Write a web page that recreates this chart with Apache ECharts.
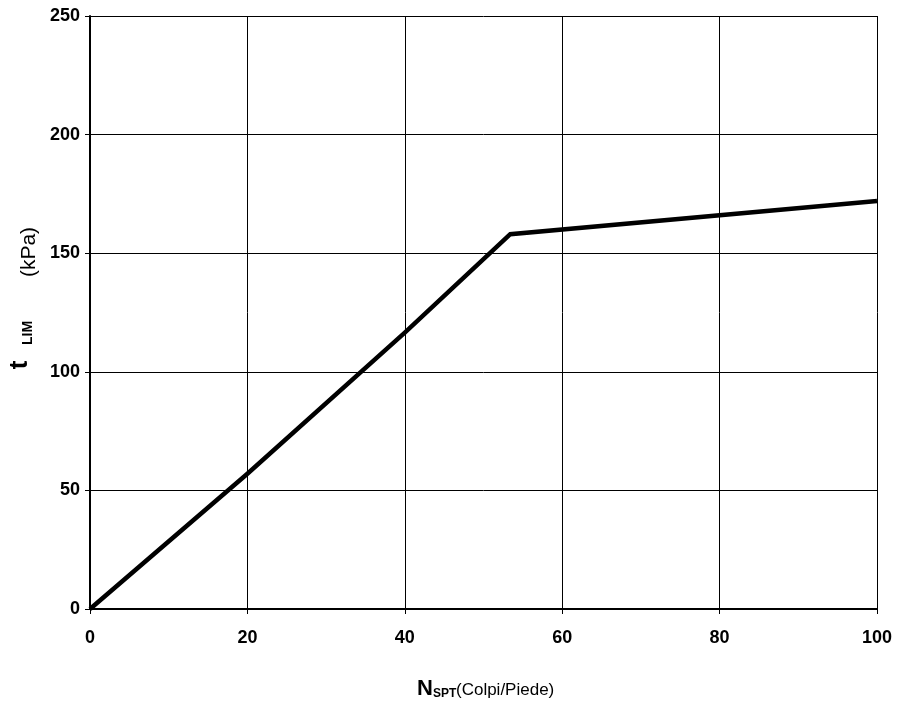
<!DOCTYPE html>
<html>
<head>
<meta charset="utf-8">
<style>
  html, body { margin: 0; padding: 0; background: #fff; }
  #chart { width: 900px; height: 702px; }
</style>
<script src="https://cdn.jsdelivr.net/npm/echarts@6/dist/echarts.min.js"></script>
</head>
<body>
<div id="chart"></div>
<script>
// N_SPT values (Colpi/Piede) and the limit shear stress tau_LIM (kPa)
const nSpt = [0, 20, 40, 53.4, 100];
const tauLim = [0, 57, 116.5, 158, 172];

// Axis ticks
const xTicks = [0, 20, 40, 60, 80, 100];
const yTicks = [0, 50, 100, 150, 200, 250];

const SANS = '"Liberation Sans", Arial, sans-serif';

const chart = echarts.init(document.getElementById('chart'), null, { renderer: 'canvas' });

chart.setOption({
  backgroundColor: '#ffffff',
  animation: false,
  grid: { left: 90, right: 23, top: 16, bottom: 93, containLabel: false },
  xAxis: {
    type: 'value',
    min: xTicks[0],
    max: xTicks[xTicks.length - 1],
    interval: xTicks[1] - xTicks[0],
    axisLine: { show: true, onZero: false, lineStyle: { color: '#000', width: 2 } },
    axisTick: { show: true, length: 5, lineStyle: { color: '#000', width: 1 } },
    axisLabel: { color: '#000', fontFamily: SANS, fontWeight: 'bold', fontSize: 18, margin: 20 },
    splitLine: { show: true, lineStyle: { color: '#000', width: 1 } }
  },
  yAxis: {
    type: 'value',
    min: yTicks[0],
    max: yTicks[yTicks.length - 1],
    interval: yTicks[1] - yTicks[0],
    axisLine: { show: true, onZero: false, lineStyle: { color: '#000', width: 2 } },
    axisTick: { show: true, length: 5, lineStyle: { color: '#000', width: 1 } },
    axisLabel: { color: '#000', fontFamily: SANS, fontWeight: 'bold', fontSize: 18, margin: 10 },
    splitLine: { show: true, lineStyle: { color: '#000', width: 1 } }
  },
  series: [{
    type: 'line',
    data: nSpt.map((n, i) => [n, tauLim[i]]),
    showSymbol: false,
    symbol: 'none',
    lineStyle: { color: '#000', width: 4.5, join: 'miter', cap: 'butt' },
    clip: false
  }],
  graphic: [
    // y-axis title: t_LIM (kPa), rotated
    { type: 'text', x: 20, y: 365, rotation: Math.PI / 2,
      style: { text: 't', font: 'bold 26px ' + SANS, fill: '#000', align: 'center', verticalAlign: 'middle' } },
    { type: 'text', x: 28, y: 333, rotation: Math.PI / 2,
      style: { text: 'LIM', font: 'bold 14px ' + SANS, fill: '#000', align: 'center', verticalAlign: 'middle' } },
    { type: 'text', x: 29, y: 252, rotation: Math.PI / 2,
      style: { text: '(kPa)', font: '21px ' + SANS, fill: '#000', align: 'center', verticalAlign: 'middle' } },
    // x-axis title: N_SPT (Colpi/Piede)
    { type: 'text', x: 417, y: 689,
      style: { text: 'N', font: 'bold 22px ' + SANS, fill: '#000', align: 'left', verticalAlign: 'middle' } },
    { type: 'text', x: 433, y: 694,
      style: { text: 'SPT', font: 'bold 12px ' + SANS, fill: '#000', align: 'left', verticalAlign: 'middle' } },
    { type: 'text', x: 456, y: 690,
      style: { text: '(Colpi/Piede)', font: '17px ' + SANS, fill: '#000', align: 'left', verticalAlign: 'middle' } }
  ]
});
</script>
</body>
</html>
